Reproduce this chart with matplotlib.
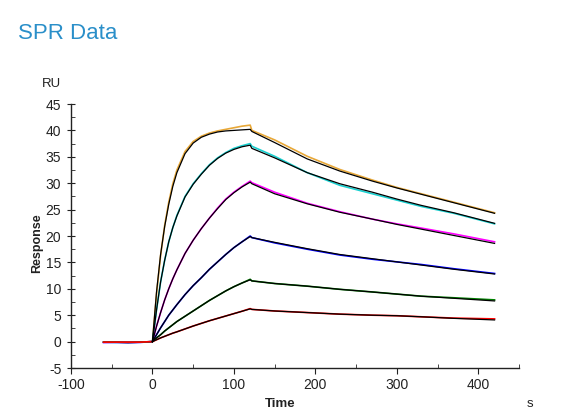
import matplotlib
matplotlib.use("Agg")
import matplotlib.pyplot as plt
from matplotlib.ticker import MultipleLocator

plt.rcParams['font.family'] = ['Liberation Sans', 'DejaVu Sans']
plt.rcParams['axes.unicode_minus'] = False

# ---- data ----
t_base = [-60, -45, -30, -15, 0]
t_assoc = [0, 5, 10, 15, 20, 25, 30, 40, 50, 60, 70, 80, 90, 100, 110, 120]
t_diss = [122, 150, 190, 230, 270, 300, 330, 370, 420]

colors = ['#E8A838', '#18D0D0', '#FF00FF', '#0000FF', '#008000', '#FF0000']

base_data = [
    [-0.1, -0.1, -0.15, -0.1, 0.0],
    [-0.1, -0.15, -0.1, -0.1, 0.0],
    [-0.15, -0.1, -0.15, -0.1, 0.0],
    [-0.15, -0.15, -0.2, -0.15, 0.0],
    [-0.1, -0.1, -0.15, -0.1, 0.0],
    [-0.1, -0.1, -0.1, -0.1, 0.0],
]

assoc_data = [
    [0.0, 9.0, 16.3, 22.0, 26.4, 29.9, 32.5, 36.0, 37.9, 38.9, 39.5, 39.9, 40.2, 40.5, 40.8, 41.0],
    [0.0, 6.0, 11.3, 15.4, 18.9, 21.6, 23.9, 27.5, 29.9, 31.8, 33.5, 34.8, 35.8, 36.6, 37.1, 37.5],
    [0.0, 2.9, 5.5, 7.9, 10.0, 11.9, 13.6, 16.7, 19.2, 21.4, 23.4, 25.3, 27.0, 28.3, 29.4, 30.4],
    [0.0, 1.3, 2.6, 3.8, 5.0, 6.0, 7.0, 8.9, 10.6, 12.1, 13.7, 15.1, 16.5, 17.8, 18.9, 20.0],
    [0.0, 0.7, 1.3, 2.0, 2.6, 3.2, 3.8, 4.8, 5.8, 6.8, 7.8, 8.7, 9.6, 10.4, 11.1, 11.8],
    [0.0, 0.35, 0.7, 1.0, 1.3, 1.6, 1.85, 2.4, 2.95, 3.45, 3.95, 4.4, 4.85, 5.3, 5.75, 6.25],
]
diss_data = [
    [40.0, 38.2, 35.1, 32.6, 30.6, 29.2, 28.0, 26.4, 24.4],
    [37.0, 35.1, 32.0, 29.6, 28.0, 26.8, 25.6, 24.3, 22.3],
    [30.1, 28.3, 26.2, 24.6, 23.2, 22.3, 21.5, 20.4, 18.9],
    [19.7, 18.7, 17.5, 16.4, 15.6, 15.1, 14.6, 13.8, 12.9],
    [11.5, 11.0, 10.5, 9.9, 9.4, 9.0, 8.6, 8.3, 7.9],
    [6.1, 5.8, 5.5, 5.2, 5.0, 4.9, 4.7, 4.45, 4.3],
]

assoc_fit = [
    [0.0, 9.4, 16.5, 21.8, 26.0, 29.4, 32.0, 35.6, 37.6, 38.7, 39.3, 39.7, 39.9, 40.0, 40.1, 40.2],
    [0.0, 6.0, 11.3, 15.4, 18.9, 21.6, 23.8, 27.4, 29.8, 31.7, 33.4, 34.7, 35.7, 36.4, 36.9, 37.2],
    [0.0, 2.9, 5.5, 7.9, 10.0, 11.9, 13.6, 16.7, 19.2, 21.4, 23.4, 25.2, 26.9, 28.2, 29.3, 30.2],
    [0.0, 1.3, 2.6, 3.8, 5.0, 6.0, 7.0, 8.9, 10.6, 12.1, 13.7, 15.1, 16.5, 17.8, 18.9, 19.9],
    [0.0, 0.7, 1.3, 2.0, 2.6, 3.2, 3.8, 4.8, 5.8, 6.8, 7.8, 8.7, 9.6, 10.4, 11.1, 11.7],
    [0.0, 0.35, 0.7, 1.0, 1.3, 1.6, 1.85, 2.4, 2.95, 3.45, 3.95, 4.4, 4.85, 5.3, 5.75, 6.2],
]
diss_fit = [
    [39.8, 37.7, 34.6, 32.3, 30.4, 29.1, 27.9, 26.3, 24.3],
    [36.6, 34.8, 32.0, 29.9, 28.3, 27.0, 25.8, 24.4, 22.4],
    [29.9, 28.0, 26.1, 24.5, 23.2, 22.2, 21.3, 20.1, 18.6],
    [19.7, 18.8, 17.6, 16.5, 15.7, 15.1, 14.5, 13.7, 12.8],
    [11.5, 11.0, 10.5, 9.9, 9.4, 9.0, 8.6, 8.2, 7.7],
    [6.1, 5.8, 5.5, 5.2, 5.0, 4.9, 4.7, 4.4, 4.1],
]

x_ticks = [-100, 0, 100, 200, 300, 400]
y_ticks = [-5, 0, 5, 10, 15, 20, 25, 30, 35, 40, 45]

# ---- figure ----
fig = plt.figure(figsize=(5.68, 4.15), dpi=100)
ax = fig.add_axes([71 / 568, 47 / 415, 448 / 568, 264 / 415])

for i, c in enumerate(colors):
    t_all = t_base + t_assoc[1:] + t_diss
    y_all = base_data[i] + assoc_data[i][1:] + diss_data[i]
    ax.plot(t_all, y_all, color=c, lw=1.2, solid_joinstyle='round')
for i in range(len(colors)):
    t_all = t_assoc + t_diss
    y_all = assoc_fit[i] + diss_fit[i]
    ax.plot(t_all, y_all, color='black', lw=0.9, solid_joinstyle='round')

ax.set_xlim(-100, 450)
ax.set_ylim(-5, 45)
ax.set_xticks(x_ticks)
ax.set_yticks(y_ticks)
ax.xaxis.set_minor_locator(MultipleLocator(50))
ax.yaxis.set_minor_locator(MultipleLocator(2.5))
for s in ['top', 'right']:
    ax.spines[s].set_visible(False)
for s in ['left', 'bottom']:
    ax.spines[s].set_linewidth(1.0)
    ax.spines[s].set_color('#222222')
ax.tick_params(axis='both', which='major', direction='inout', length=6, width=0.8,
               labelsize=10, colors='#222222', labelcolor='#222222')
ax.tick_params(axis='x', which='major', direction='out', length=4, pad=3)
ax.tick_params(axis='y', which='major', pad=4)
ax.tick_params(axis='both', which='minor', direction='in', length=3, width=0.7, colors='#444444')

fig.text(18 / 568, 1 - 39 / 415, 'SPR Data', color='#2A8FC9', fontsize=16,
         ha='left', va='baseline')
fig.text(51 / 568, 1 - 84 / 415, 'RU', fontsize=9.5, ha='center', va='center', color='#222222')
fig.text(37 / 568, 1 - 243 / 415, 'Response', fontsize=9, fontweight='bold',
         rotation=90, ha='center', va='center', color='#222222')
fig.text(280 / 568, 1 - 404 / 415, 'Time', fontsize=9.5, fontweight='bold',
         ha='center', va='center', color='#222222')
fig.text(530 / 568, 1 - 404 / 415, 's', fontsize=9.5, ha='center', va='center', color='#222222')

fig.savefig('out.png', dpi=100)
